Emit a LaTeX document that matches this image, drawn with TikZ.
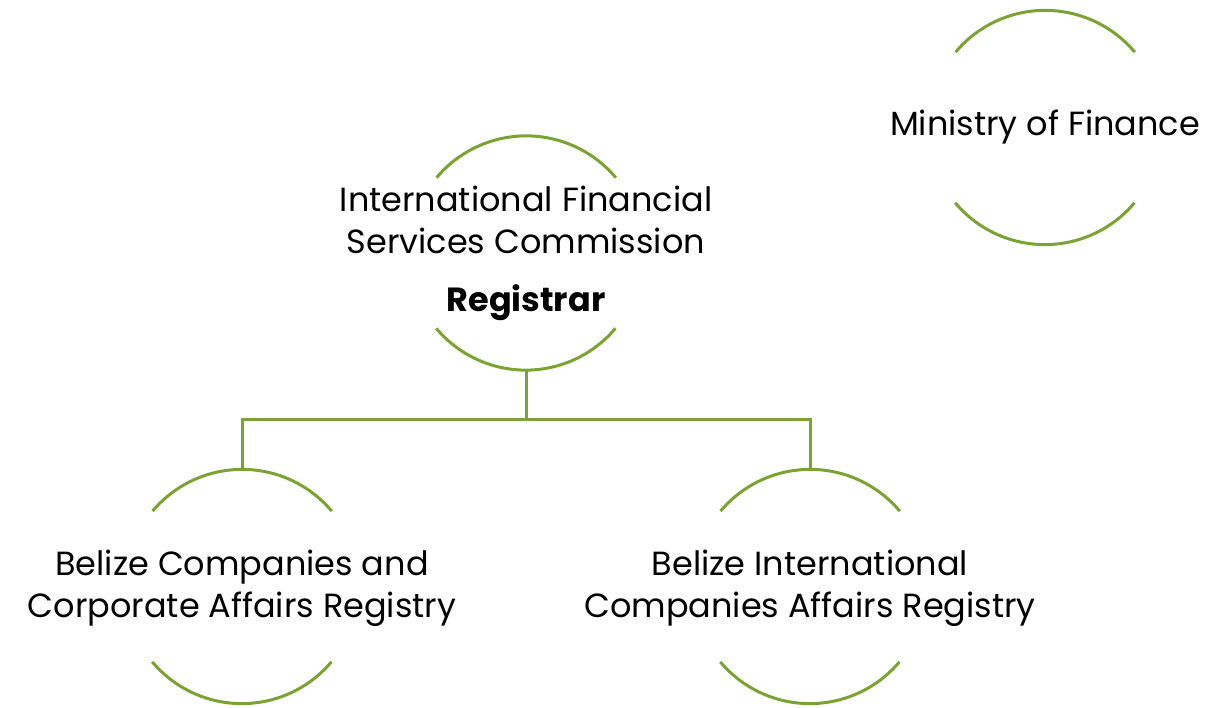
\documentclass[tikz,border=0pt]{standalone}
\usepackage{fontspec}
\setmainfont{Poppins}
\usetikzlibrary{positioning}

\definecolor{leafgreen}{RGB}{122,163,52}

\tikzset{
  ring/.style={circle,minimum size=234pt,inner sep=0pt,draw=none},
  arcline/.style={draw=leafgreen,line width=3pt},
  link/.style={draw=leafgreen,line width=3pt},
  lbl/.style={align=center,font=\fontsize{33.5}{42}\selectfont,text=black,inner sep=0pt}
}

\begin{document}
\begin{tikzpicture}[x=1pt,y=1pt]
\useasboundingbox (0,0) rectangle (1210,707);

% the four circles (only their top and bottom arcs are drawn)
\node[ring] (ifsc) at (526,454) {};
\node[ring] (mof) at (1045,579.5) {};
\node[ring] (bcr) at (242,120.5) {};
\node[ring] (bic) at (810,120.5) {};

\foreach \n in {ifsc,mof,bcr,bic}{
  \draw[arcline] (\n.40) arc[start angle=40,end angle=140,radius=117pt];
  \draw[arcline] (\n.220) arc[start angle=220,end angle=320,radius=117pt];
}

% labels
\node[lbl] (ifsct) at (ifsc.center) {International Financial\\Services Commission\\[16pt]\textbf{Registrar}};
\node[lbl] (moft) at (mof.center) {Ministry of Finance};
\node[lbl] (bcrt) at ([yshift=-2pt]bcr.center) {Belize Companies and\\Corporate Affairs Registry};
\node[lbl] (bict) at ([yshift=-2pt]bic.center) {Belize International\\Companies Affairs Registry};

% connectors
\coordinate (bus) at (526,287);
\draw[link] (ifsc.south) -- (bus) -| (bcr.north);
\draw[link] (bus) -| (bic.north);

\end{tikzpicture}
\end{document}
